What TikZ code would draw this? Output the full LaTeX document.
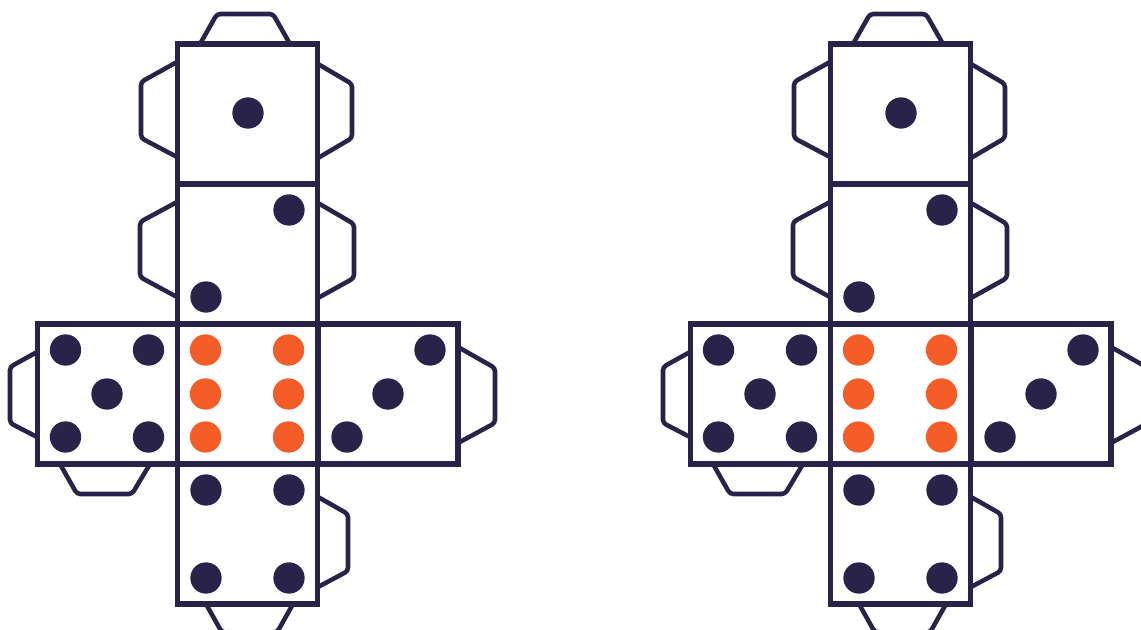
\documentclass[tikz,border=0pt]{standalone}
\usepackage{xcolor}
\definecolor{dienavy}{RGB}{41,35,74}
\definecolor{dieorange}{RGB}{245,93,40}
\tikzset{
  facebox/.style={draw=dienavy,line width=3.8pt,minimum width=105pt,minimum height=105pt,
    inner sep=0pt,outer sep=0pt},
  pip/.style={circle,fill=dienavy,minimum size=23.5pt,inner sep=0pt,outer sep=0pt},
  pipred/.style={pip,fill=dieorange},
  flap/.style={draw=dienavy,line width=3.4pt,rounded corners=2.5pt},
  dienet/.pic={
    % faces
    \node[facebox](one) at (247.5,114){};
    \node[facebox](two) at (247.5,254){};
    \node[facebox](six) at (247.5,394){};
    \node[facebox](five) at (107.5,394){};
    \node[facebox](three) at (388,394){};
    \node[facebox](four) at (247.5,534){};
    % pips
    \node[pip](oneA) at (248,113){};
    \foreach \px/\py [count=\i] in {289/210,206/297}
      \node[pip](two\i) at (\px,\py){};
    \foreach \px/\py [count=\i] in {430/350,388/394,347/437}
      \node[pip](three\i) at (\px,\py){};
    \foreach \px/\py [count=\i] in {206/490,289/490,206/578,289/578}
      \node[pip](four\i) at (\px,\py){};
    \foreach \px/\py [count=\i] in {65.5/350,148.5/350,107/394,65.5/437,148.5/437}
      \node[pip](five\i) at (\px,\py){};
    \foreach \px/\py [count=\i] in {205.5/350,288.5/350,205.5/394,288.5/394,205.5/437,288.5/437}
      \node[pipred](six\i) at (\px,\py){};
    % flaps
    \draw[flap] (200,44)--(217,14)--(273,14)--(290,44);
    \draw[flap] (177,62)--(141,82)--(141,138)--(177,157);
    \draw[flap] (318,64)--(352,84)--(352,138)--(318,158);
    \draw[flap] (177,202)--(140,222)--(140,277)--(177,297);
    \draw[flap] (318,203)--(354,224)--(354,278)--(318,298);
    \draw[flap] (37,352)--(10,367)--(10,423)--(37,437);
    \draw[flap] (458,347)--(495,368)--(495,423)--(458,443);
    \draw[flap] (60,464)--(77,494)--(132,494)--(150,464);
    \draw[flap] (318,497)--(348,514)--(348,571)--(318,587);
    \draw[flap] (206,604)--(222,632.5)--(277,632.5)--(293,604);
  },
}
\begin{document}
\begin{tikzpicture}[x=0.75pt,y=-0.75pt]
  \useasboundingbox (0,0) rectangle (1141,630);
  \clip (0,0) rectangle (1141,630);
  % left net
  \pic (neta) at (0,0) {dienet};
  % right net
  \pic (netb) at (653,0) {dienet};
\end{tikzpicture}
\end{document}
